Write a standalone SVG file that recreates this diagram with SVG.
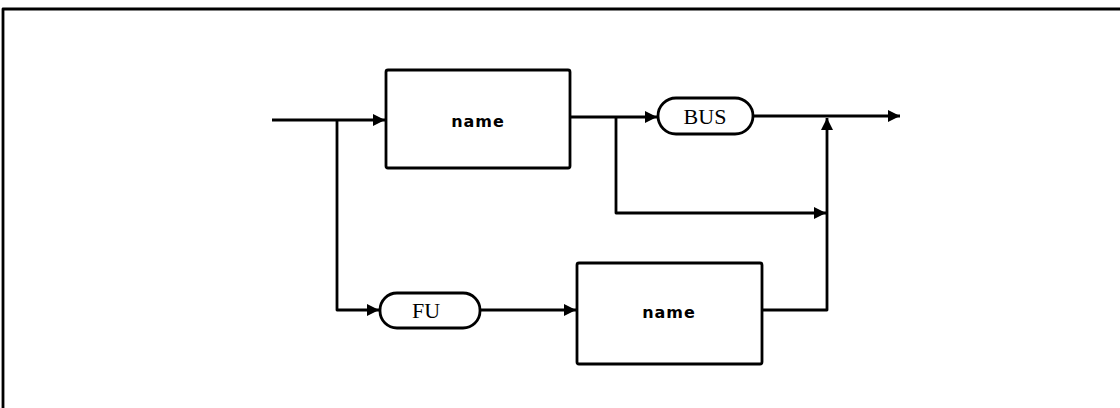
<svg xmlns="http://www.w3.org/2000/svg" width="1120" height="408" viewBox="0 0 1120 408">
<style>
.ln{fill:none;stroke:#000;stroke-width:2.8;stroke-linejoin:round}
.bx{fill:#fff;stroke:#000;stroke-width:2.8}
.t1{font-family:"DejaVu Sans","Liberation Sans",sans-serif;font-weight:bold;font-size:16px;letter-spacing:1px;text-anchor:middle}
.t2{font-family:"Liberation Serif",serif;font-size:22px;text-anchor:middle}
</style>
<defs>
<marker id="ah" viewBox="0 0 10 10" refX="10" refY="5" markerWidth="12" markerHeight="12" markerUnits="userSpaceOnUse" orient="auto">
<path d="M0,0 L10,5 L0,10 Z" fill="#000"/>
</marker>
</defs>
<path class="ln" d="M3,408 L3,9 L1120,9"/>
<g id="connectors">
<path class="ln" d="M272,120 L385,120" marker-end="url(#ah)"/>
<path class="ln" d="M337,120 L337,310 L379,310" marker-end="url(#ah)"/>
<path class="ln" d="M570,117 L657,117" marker-end="url(#ah)"/>
<path class="ln" d="M616,117 L616,213 L826,213" marker-end="url(#ah)"/>
<path class="ln" d="M753,116 L900,116" marker-end="url(#ah)"/>
<path class="ln" d="M480,310 L576,310" marker-end="url(#ah)"/>
<path class="ln" d="M762,310 L827,310 L827,118" marker-end="url(#ah)"/>
</g>
<g id="name1">
<rect class="bx" x="386" y="70" width="184" height="98" rx="2"/>
<text class="t1" x="478" y="127">name</text>
</g>
<g id="bus">
<rect class="bx" x="658" y="98" width="95" height="36" rx="18"/>
<text class="t2" x="705" y="124">BUS</text>
</g>
<g id="fu">
<rect class="bx" x="380" y="293" width="100" height="35" rx="17"/>
<text class="t2" x="426" y="318">FU</text>
</g>
<g id="name2">
<rect class="bx" x="577" y="263" width="185" height="101" rx="2"/>
<text class="t1" x="669" y="318">name</text>
</g>
</svg>
